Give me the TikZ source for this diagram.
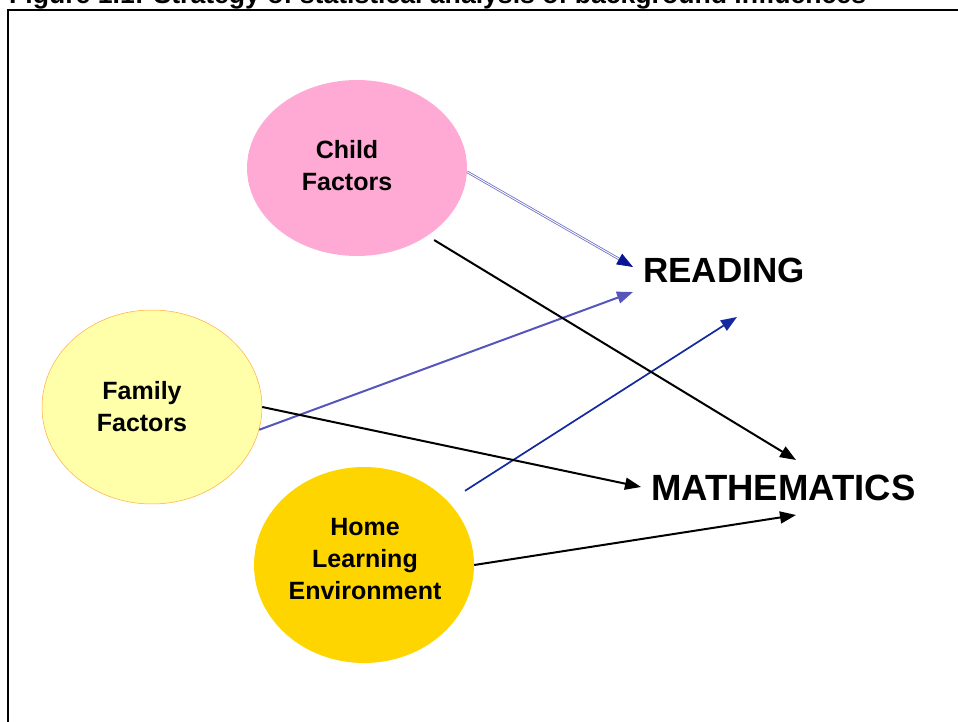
\documentclass[tikz,border=0pt]{standalone}
\usepackage{fontspec}
\setmainfont{Liberation Sans}
\usetikzlibrary{shapes.geometric,arrows.meta}

\definecolor{childpink}{RGB}{255,170,212}
\definecolor{familyyellow}{RGB}{255,255,170}
\definecolor{familyedge}{RGB}{255,170,60}
\definecolor{homegold}{RGB}{255,213,0}
\definecolor{navyblue}{RGB}{10,20,150}
\definecolor{midblue}{RGB}{85,85,187}
\definecolor{deepblue}{RGB}{20,40,160}
\definecolor{paleblue}{RGB}{110,110,200}

\tikzset{
  factor/.style={ellipse, inner sep=0pt, minimum width=220pt},
  factortext/.style={align=center, inner sep=0pt, font=\fontsize{25}{32}\selectfont\bfseries},
  outcome/.style={anchor=base west, inner sep=0pt, font=\fontsize{35}{40}\selectfont\bfseries},
  arrowline/.style={line width=2pt, -{Triangle[length=16pt,width=12pt]}}
}

\begin{document}
\begin{tikzpicture}[x=1pt,y=1pt,yscale=-1,xscale=1]
\useasboundingbox (0,0) rectangle (958,722);

% Title (cut off at the top)
\node (title) [anchor=base west, inner sep=0pt, font=\fontsize{26.6}{30}\selectfont\bfseries] at (9,4) {Figure 1.1: Strategy of statistical analysis of background influences};
%Frame
\draw [line width=2pt] (8,740) -- (8,10) -- (980,10);

%Shape: Ellipse [child]
\node (child) [factor, fill=childpink, minimum height=176pt] at (357,168) {};
%Shape: Ellipse [family]
\node (family) [factor, fill=familyyellow, draw=familyedge, line width=0.5pt, minimum height=194pt] at (152,407) {};
%Shape: Ellipse [home]
\node (home) [factor, fill=homegold, minimum height=196pt] at (364,565) {};

% Text Node
\node (childtxt) [factortext] at (347,166) {Child\\Factors};
% Text Node
\node (familytxt) [factortext] at (142,407) {Family\\Factors};
% Text Node
\node (hometxt) [factortext] at (365,559) {Home\\Learning\\Environment};

% Text Node
\node (reading) [outcome] at (643,282) {READING};
% Text Node
\node (maths) [outcome, font=\fontsize{36.5}{40}\selectfont\bfseries] at (651,500) {MATHEMATICS};

% arrow ends
\coordinate (readA) at (633,267);
\coordinate (readB) at (633,292);
\coordinate (readC) at (737,317);
\coordinate (mathA) at (796,460);
\coordinate (mathB) at (641,487);
\coordinate (mathC) at (796,515);

%Straight Lines to READING
\draw [draw=paleblue, double=white, double distance=0.9pt, line width=0.8pt, -{Triangle[length=16pt,width=12pt,color=navyblue]}] (child.-2) -- (readA);
\draw [arrowline, midblue] (family.-12) -- (readB);
\draw [arrowline, deepblue, line width=1.7pt, shorten <=20pt] (home.37) -- (readC);

%Straight Lines to MATHEMATICS
\draw [arrowline, black, shorten <=8pt] (child.-44) -- (mathA);
\draw [arrowline, black] (family.east) -- (mathB);
\draw [arrowline, black] (home.east) -- (mathC);

\end{tikzpicture}
\end{document}
